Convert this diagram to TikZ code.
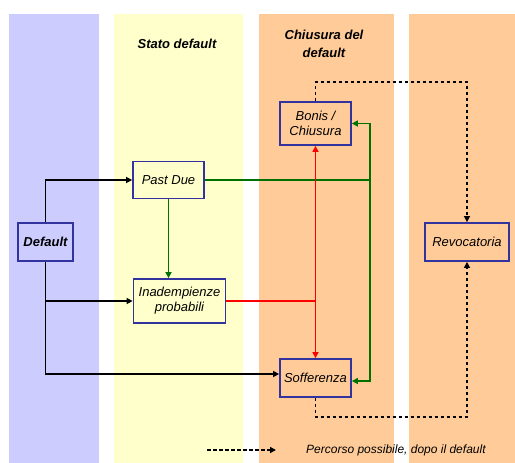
\documentclass[tikz,border=0pt]{standalone}
\usepackage{fontspec}
\setmainfont{Liberation Sans}
\usetikzlibrary{arrows.meta,calc}
\definecolor{colblue}{HTML}{CCCCFF}
\definecolor{colyellow}{HTML}{FFFFCC}
\definecolor{colorange}{HTML}{FFCC99}
\definecolor{boxblue}{HTML}{3333A0}
\definecolor{lgreen}{HTML}{007000}
\definecolor{lred}{HTML}{FF0000}
\begin{document}
\begin{tikzpicture}[x=1pt,y=-1pt,
  box/.style={draw=boxblue, line width=1.8pt, inner sep=0pt, align=center,
    font=\itshape\fontsize{13}{15}\selectfont},
  title/.style={align=center, font=\bfseries\itshape\fontsize{13}{18}\selectfont},
  conn/.style={line width=1.8pt, -{Triangle[length=6pt,width=6pt]}},
  plain/.style={line width=1.8pt},
  dashline/.style={line width=1.8pt, dash pattern=on 3.5pt off 2.5pt},
]
\useasboundingbox (0,0) rectangle (515,463);
% columns
\fill[colblue] (9,14) rectangle (99,463);
\fill[colyellow] (114,14) rectangle (243,463);
\fill[colorange] (259,14) rectangle (394,463);
\fill[colorange] (409,14) rectangle (515,463);
% titles
\node[title] (t1) at (177,44) {Stato default};
\node[title] (t2) at (324,44) {Chiusura del\\default};
% boxes
\node[box, fill=colorange, minimum width=71pt, minimum height=43pt] (bonis) at (315.5,123.5) {Bonis /\\Chiusura};
\node[box, fill=colyellow, minimum width=71pt, minimum height=37pt] (past) at (168.5,180) {Past Due};
\node[box, fill=colblue, minimum width=55pt, minimum height=38pt, font=\bfseries\itshape\fontsize{13}{15}\selectfont] (def) at (45.5,242) {Default};
\node[box, fill=colorange, minimum width=84pt, minimum height=38pt] (revo) at (467,242) {Revocatoria};
\node[box, fill=colyellow, minimum width=92pt, minimum height=44pt] (inad) at (179.5,301) {Inadempienze\\probabili};
\node[box, fill=colorange, minimum width=71pt, minimum height=38pt] (soff) at (315.5,378) {Sofferenza};
% black connectors
\draw[conn] (def.north) |- (past.west);
\draw[conn] (def.south) |- ($(soff.west)+(0,-4)$);
\coordinate (bj) at (def.south |- inad.west);
\draw[conn] (bj) -- (inad.west);
% green connectors
\draw[conn, lgreen] (past.south) -- (past.south |- inad.north);
\coordinate (gj) at (370,180);
\draw[plain, lgreen] (past.east) -- (gj);
\draw[conn, lgreen] (gj) |- (bonis.east);
\draw[conn, lgreen] (gj) |- ($(soff.east)+(0,3)$);
% red connectors
\coordinate (rj) at (bonis.south |- inad.east);
\draw[plain, lred] (inad.east) -- (rj);
\draw[conn, lred] (rj) -- (bonis.south);
\draw[conn, lred] (rj) -- (soff.north);
% dashed connectors
\draw[conn, dashline] (bonis.north) -- ++(0,-19) -| (revo.north);
\draw[conn, dashline] (soff.south) -- ++(0,19) -| (revo.south);
% legend
\coordinate (l1) at (207,450);
\coordinate (l2) at (276,450);
\draw[conn, dashline] (l1) -- (l2);
\node[anchor=west, inner sep=0pt, font=\itshape\fontsize{12}{14}\selectfont] (leg) at (306,450) {Percorso possibile, dopo il default};
\end{tikzpicture}
\end{document}
